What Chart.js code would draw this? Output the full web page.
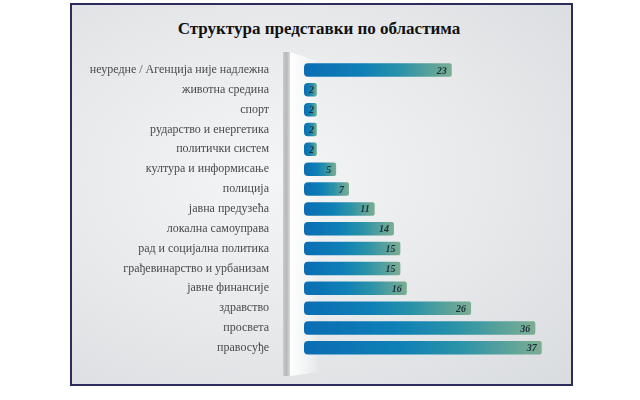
<!DOCTYPE html>
<html>
<head>
<meta charset="utf-8">
<script src="https://cdn.jsdelivr.net/npm/chart.js@4"></script>
<style>
  html, body { margin: 0; padding: 0; background: #ffffff; }
  #frame {
    position: absolute; left: 70px; top: 3px; width: 499px; height: 379px;
    border: 2px solid #2b2b5c;
    background: radial-gradient(ellipse at 40% 45%, #f4f5f6 0%, #e6e8ea 55%, #d9dcdf 100%);
  }
  #title {
    position: absolute; left: 0; top: 19px; width: 638px; text-align: center;
    font: bold 17px "Liberation Serif", "DejaVu Serif", serif; color: #111111;
    margin: 0;
  }
  #wrap { position: absolute; left: 0; top: 0; width: 640px; height: 400px; }
</style>
</head>
<body>
<div id="frame"></div>
<div id="title"></div>
<div id="wrap"><canvas id="c" width="640" height="400"></canvas></div>
<script>
const categories = [
  "неуредне / Агенција није надлежна",
  "животна средина",
  "спорт",
  "рударство и енергетика",
  "политички систем",
  "култура и информисање",
  "полиција",
  "јавна предузећа",
  "локална самоуправа",
  "рад и социјална политика",
  "грађевинарство и урбанизам",
  "јавне финансије",
  "здравство",
  "просвета",
  "правосуђе"
];
const values = [23, 2, 2, 2, 2, 5, 7, 11, 14, 15, 15, 16, 26, 36, 37];
const titleText = "Структура представки по областима";
document.getElementById('title').textContent = titleText;

const panelPlugin = {
  id: 'panel',
  beforeDatasetsDraw(chart) {
    const ctx = chart.ctx;
    const left = chart.chartArea.left;
    ctx.save();
    const wg = ctx.createLinearGradient(left - 14, 0, left + 16, 0);
    wg.addColorStop(0, 'rgba(255,255,255,0.95)');
    wg.addColorStop(0.6, 'rgba(255,255,255,0.5)');
    wg.addColorStop(1, 'rgba(255,255,255,0)');
    ctx.fillStyle = wg;
    ctx.beginPath();
    ctx.moveTo(left - 14, 52);
    ctx.lineTo(left + 16, 62);
    ctx.lineTo(left + 16, 372);
    ctx.lineTo(left - 14, 376);
    ctx.closePath();
    ctx.fill();
    const pg = ctx.createLinearGradient(left - 21, 0, left - 14, 0);
    pg.addColorStop(0, '#c9cccf');
    pg.addColorStop(0.5, '#b5b9bc');
    pg.addColorStop(1, '#d7dadc');
    ctx.fillStyle = pg;
    ctx.fillRect(left - 21, 52, 7, 324);
    ctx.restore();
  },
  afterDatasetsDraw(chart) {
    const ctx = chart.ctx;
    const meta = chart.getDatasetMeta(0);
    ctx.save();
    ctx.font = 'italic bold 10px "Liberation Serif", "DejaVu Serif", serif';
    ctx.fillStyle = '#1d2f3a';
    ctx.textBaseline = 'middle';
    meta.data.forEach((bar, i) => {
      const v = chart.data.datasets[0].data[i];
      if (v <= 2) {
        ctx.textAlign = 'center';
        ctx.fillText(String(v), (bar.x + bar.base) / 2 + 1, bar.y + 1);
      } else {
        ctx.textAlign = 'right';
        ctx.fillText(String(v), bar.x - 5, bar.y + 1);
      }
    });
    ctx.restore();
  }
};

new Chart(document.getElementById('c'), {
  type: 'bar',
  data: {
    labels: categories,
    datasets: [{
      data: values,
      backgroundColor(context) {
        const chart = context.chart;
        const xs = chart.scales && chart.scales.x;
        if (!chart.chartArea || !xs || context.raw === undefined) return '#0b74b6';
        const x0 = xs.getPixelForValue(0);
        const x1 = xs.getPixelForValue(context.raw);
        const g = chart.ctx.createLinearGradient(x0, 0, x1, 0);
        g.addColorStop(0, '#0a6db4');
        g.addColorStop(0.4, '#0f80b6');
        g.addColorStop(0.65, '#2a92a8');
        g.addColorStop(1, '#7cae92');
        return g;
      },
      borderWidth: 0,
      borderRadius: { topLeft: 4, bottomLeft: 4, topRight: 2, bottomRight: 2 },
      borderSkipped: false,
      barPercentage: 0.68,
      categoryPercentage: 1.0
    }]
  },
  options: {
    indexAxis: 'y',
    responsive: false,
    animation: false,
    devicePixelRatio: 1,
    layout: { padding: { left: 0, right: 79, top: 60, bottom: 37 } },
    plugins: {
      legend: { display: false },
      tooltip: { enabled: false },
      title: { display: false }
    },
    scales: {
      x: { display: false, min: 0, max: 40 },
      y: {
        afterFit(scale) { scale.width = 304; },
        grid: { display: false, drawTicks: false },
        border: { display: false },
        ticks: {
          padding: 35,
          color: '#4a4a4a',
          font: { family: '"Liberation Serif", "DejaVu Serif", serif', size: 12 },
          autoSkip: false
        }
      }
    }
  },
  plugins: [panelPlugin]
});
</script>
</body>
</html>
